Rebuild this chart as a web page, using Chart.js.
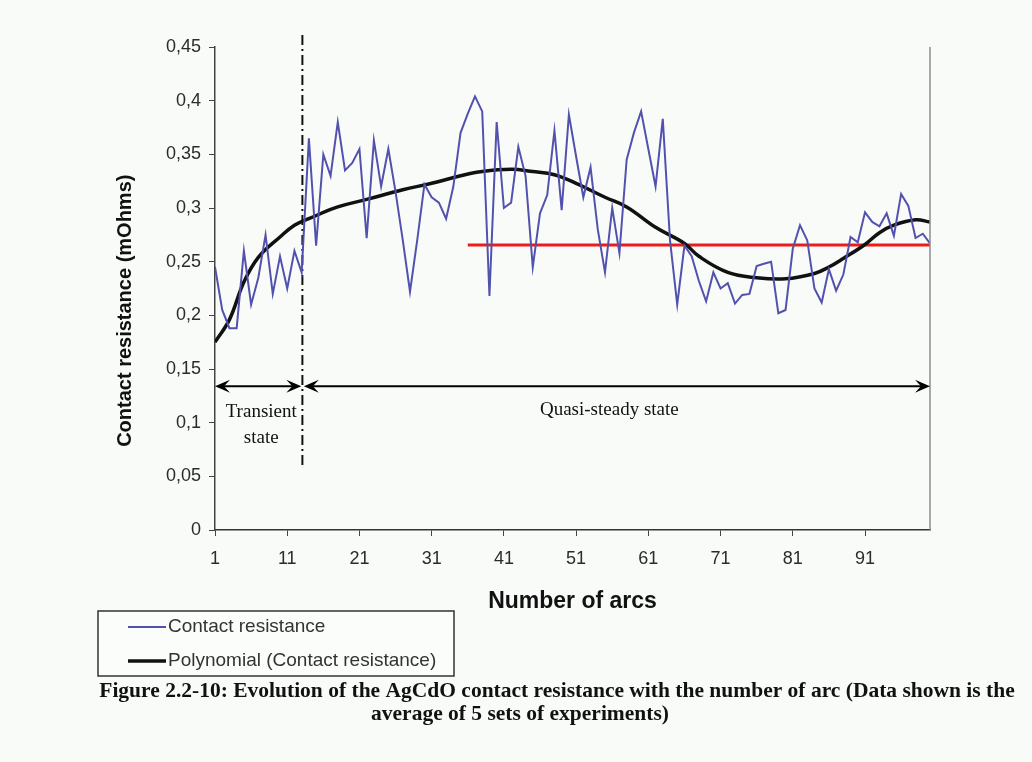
<!DOCTYPE html>
<html>
<head>
<meta charset="utf-8">
<title>AgCdO contact resistance</title>
<script src="https://cdn.jsdelivr.net/npm/chart.js@4.4.1/dist/chart.umd.min.js"></script>
<style>
  body { margin: 0; background: #f9fbf9; }
  canvas { display: block; }
</style>
</head>
<body>
<canvas id="resChart" width="1032" height="762"></canvas>
<script>
// arc number 1..100 (x categories)
const arcNumbers = Array.from({ length: 100 }, (_, i) => i + 1);
const xTickValues = [1, 11, 21, 31, 41, 51, 61, 71, 81, 91];

// contact resistance (mOhms)
const contactResistance = [
  0.245, 0.205, 0.188, 0.188, 0.260, 0.210, 0.235, 0.275, 0.220, 0.255,
  0.225, 0.260, 0.240, 0.365, 0.265, 0.350, 0.330, 0.380, 0.335, 0.342,
  0.355, 0.272, 0.363, 0.320, 0.355, 0.315, 0.270, 0.222, 0.270, 0.322,
  0.310, 0.305, 0.290, 0.320, 0.370, 0.388, 0.404, 0.390, 0.218, 0.380,
  0.300, 0.305, 0.357, 0.330, 0.245, 0.295, 0.312, 0.372, 0.298, 0.387,
  0.348, 0.310, 0.338, 0.280, 0.240, 0.300, 0.258, 0.345, 0.370, 0.390,
  0.355, 0.320, 0.383, 0.270, 0.210, 0.265, 0.255, 0.232, 0.213, 0.240,
  0.225, 0.230, 0.211, 0.219, 0.220, 0.246, 0.248, 0.250, 0.202, 0.205,
  0.262, 0.284, 0.270, 0.225, 0.212, 0.243, 0.223, 0.238, 0.273, 0.268,
  0.296, 0.287, 0.283, 0.295, 0.274, 0.313, 0.302, 0.272, 0.276, 0.267
];

// polynomial trendline, sampled off the figure
const trendArcs = [1, 3, 5, 7, 10, 12, 14, 18, 22, 27, 31, 35, 38, 42, 45, 48, 51, 55, 58, 62, 66, 68, 72, 76, 80, 84, 86, 88, 91, 93, 95, 98, 100];
const trendValues = [0.175, 0.196, 0.231, 0.254, 0.273, 0.284, 0.290, 0.301, 0.308, 0.317, 0.323, 0.330, 0.334, 0.336, 0.334, 0.331, 0.323, 0.310, 0.301, 0.282, 0.267, 0.255, 0.240, 0.235, 0.234, 0.239, 0.245, 0.253, 0.266, 0.277, 0.284, 0.289, 0.287];

// red average line over the quasi-steady part
const avgArcs = [36, 100];
const avgValues = [0.2655, 0.2655];

// dash-dot separator between the two states
const splitArcs = [13.1, 13.1];
const splitValues = [0.0605, 0.465];

// double arrows and their notes
const arrowLevel = 0.134;
const arrowSpans = [[1, 12.95], [13.3, 100]];
const notes = [
  { text: 'Transient', arc: 7.4, value: 0.110 },
  { text: 'state', arc: 7.4, value: 0.086 },
  { text: 'Quasi-steady state', arc: 55.6, value: 0.112 }
];

const legendNames = ['Contact resistance', 'Polynomial (Contact resistance)'];
const captionLines = [
  'Figure 2.2-10: Evolution of the AgCdO contact resistance with the number of arc (Data shown is the',
  'average of 5 sets of experiments)'
];

function toPoints(xs, ys) {
  return xs.map((v, i) => ({ x: v, y: ys[i] }));
}

function arrowHead(ctx, tx, ty, dir) {
  const L = 15, W = 6.5;
  ctx.beginPath();
  ctx.moveTo(tx, ty);
  ctx.lineTo(tx - dir * L, ty - W);
  ctx.lineTo(tx - dir * L * 0.6, ty);
  ctx.lineTo(tx - dir * L, ty + W);
  ctx.closePath();
  ctx.fill();
}

const extrasPlugin = {
  id: 'extras',
  afterDatasetsDraw(chart) {
    const { ctx, chartArea, scales: { x, y } } = chart;
    ctx.save();
    // right edge of plot area
    ctx.strokeStyle = '#8c8c8c';
    ctx.lineWidth = 1.5;
    ctx.beginPath();
    ctx.moveTo(chartArea.right, chartArea.top);
    ctx.lineTo(chartArea.right, chartArea.bottom);
    ctx.stroke();

    // arrows
    const ay = y.getPixelForValue(arrowLevel);
    ctx.strokeStyle = '#000';
    ctx.fillStyle = '#000';
    ctx.lineWidth = 2;
    arrowSpans.forEach(([a, b]) => {
      const x1 = x.getPixelForValue(a);
      const x2 = x.getPixelForValue(b);
      ctx.beginPath();
      ctx.moveTo(x1 + 8, ay);
      ctx.lineTo(x2 - 8, ay);
      ctx.stroke();
      arrowHead(ctx, x1, ay, -1);
      arrowHead(ctx, x2, ay, 1);
    });

    // notes
    ctx.font = '19px "Liberation Serif", serif';
    ctx.textAlign = 'center';
    ctx.textBaseline = 'middle';
    ctx.fillStyle = '#111';
    notes.forEach(n => {
      ctx.fillText(n.text, x.getPixelForValue(n.arc), y.getPixelForValue(n.value));
    });
    ctx.restore();
  },
  afterDraw(chart) {
    const { ctx } = chart;
    ctx.save();
    // legend box
    const box = { left: 98, top: 611, width: 356, height: 65 };
    ctx.fillStyle = '#fbfdfb';
    ctx.fillRect(box.left, box.top, box.width, box.height);
    ctx.strokeStyle = '#333';
    ctx.lineWidth = 1.5;
    ctx.strokeRect(box.left, box.top, box.width, box.height);
    ctx.font = '19px "Liberation Sans", Arial, sans-serif';
    ctx.textAlign = 'left';
    ctx.textBaseline = 'middle';
    legendNames.forEach((name, i) => {
      const ds = chart.data.datasets.find(d => d.label === name);
      const ly = box.top + 16 + i * 34;
      ctx.strokeStyle = ds.borderColor;
      ctx.lineWidth = ds.borderWidth;
      ctx.beginPath();
      ctx.moveTo(box.left + 30, ly);
      ctx.lineTo(box.left + 68, ly);
      ctx.stroke();
      ctx.fillStyle = '#333';
      ctx.fillText(name, box.left + 70, ly);
    });

    // figure caption
    ctx.font = 'bold 21.5px "Liberation Serif", serif';
    ctx.textAlign = 'center';
    ctx.fillStyle = '#111';
    ctx.fillText(captionLines[0], 557, 691);
    ctx.fillText(captionLines[1], 520, 714);
    ctx.restore();
  }
};

document.addEventListener('DOMContentLoaded', function() {
    const ctx = document.getElementById('resChart').getContext('2d');

    new Chart(ctx, {
        type: 'line',
        data: {
            datasets: [
                {
                    label: 'Contact resistance',
                    data: toPoints(arcNumbers, contactResistance),
                    borderColor: '#5252ae',
                    borderWidth: 2,
                    pointRadius: 0,
                    tension: 0
                },
                {
                    label: 'Polynomial (Contact resistance)',
                    data: toPoints(trendArcs, trendValues),
                    borderColor: '#111111',
                    borderWidth: 3.5,
                    pointRadius: 0,
                    tension: 0.4
                },
                {
                    label: 'average',
                    data: toPoints(avgArcs, avgValues),
                    borderColor: '#ec1c1c',
                    borderWidth: 3,
                    pointRadius: 0
                },
                {
                    label: 'split',
                    data: toPoints(splitArcs, splitValues),
                    borderColor: '#111111',
                    borderWidth: 2,
                    borderDash: [10, 4, 2, 4],
                    pointRadius: 0,
                    clip: false
                }
            ]
        },
        options: {
            responsive: false,
            animation: false,
            layout: { padding: { top: 47, left: 110, right: 102, bottom: 82 } },
            plugins: {
                legend: { display: false },
                tooltip: { enabled: false }
            },
            scales: {
                x: {
                    type: 'linear',
                    min: 1,
                    max: 100,
                    afterBuildTicks: scale => { scale.ticks = xTickValues.map(v => ({ value: v })); },
                    afterFit: scale => { scale.height = 150; },
                    grid: { drawOnChartArea: false, drawTicks: true, tickLength: 6, color: '#444' },
                    border: { display: true, color: '#333', width: 1.5 },
                    ticks: {
                        autoSkip: false,
                        maxRotation: 0,
                        padding: 12,
                        color: '#2b2b2b',
                        font: { family: '"Liberation Sans", Arial, sans-serif', size: 18 },
                        callback: v => String(v)
                    },
                    title: {
                        display: true,
                        text: 'Number of arcs',
                        color: '#111',
                        font: { family: '"Liberation Sans", Arial, sans-serif', size: 23, weight: 'bold' },
                        padding: { top: 0, bottom: 65 }
                    }
                },
                y: {
                    min: 0,
                    max: 0.45,
                    afterFit: scale => { scale.width = 105; },
                    grid: { drawOnChartArea: false, drawTicks: true, tickLength: 6, color: '#444' },
                    border: { display: true, color: '#444', width: 1.5 },
                    ticks: {
                        stepSize: 0.05,
                        padding: 8,
                        color: '#2b2b2b',
                        font: { family: '"Liberation Sans", Arial, sans-serif', size: 18 },
                        callback: v => String(Number(v.toFixed(2))).replace('.', ',')
                    },
                    title: {
                        display: true,
                        text: 'Contact resistance (mOhms)        ',
                        color: '#111',
                        font: { family: '"Liberation Sans", Arial, sans-serif', size: 20, weight: 'bold' },
                        padding: { top: 3, bottom: 0 }
                    }
                }
            }
        },
        plugins: [extrasPlugin]
    });
});
</script>
</body>
</html>
